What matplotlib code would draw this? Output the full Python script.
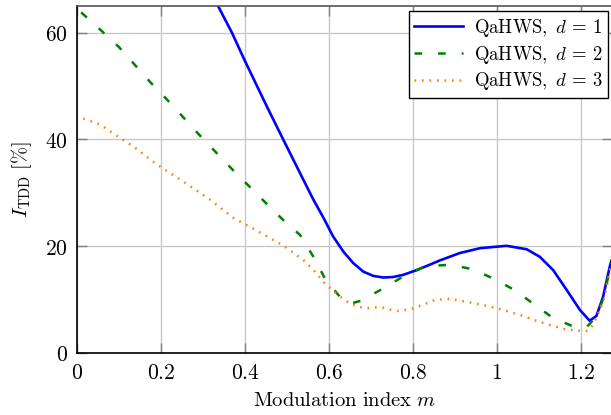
import numpy as np
import matplotlib
matplotlib.use("Agg")
import matplotlib.pyplot as plt

# QaHWS, d = 1
m_d1 = [0.30, 0.336, 0.369, 0.40, 0.452, 0.491, 0.531, 0.563, 0.587, 0.610, 0.634, 0.658, 0.682,
        0.706, 0.730, 0.753, 0.777, 0.809, 0.840, 0.864, 0.912, 0.960, 1.023, 1.071, 1.102,
        1.134, 1.166, 1.198, 1.221, 1.237, 1.253, 1.269, 1.273]
itdd_d1 = [72, 65, 60, 54.7, 46.2, 40.0, 33.7, 28.7, 25.3, 21.8, 19.0, 16.8, 15.2,
           14.4, 14.1, 14.2, 14.6, 15.5, 16.5, 17.3, 18.7, 19.6, 20.05, 19.4, 18.0,
           15.5, 11.8, 8.0, 6.0, 6.9, 10.5, 16.2, 17.3]

# QaHWS, d = 2
m_d2 = [0.01, 0.055, 0.10, 0.176, 0.214, 0.293, 0.372, 0.452, 0.491, 0.531, 0.563, 0.590, 0.626,
        0.652, 0.678, 0.730, 0.777, 0.829, 0.888, 0.940, 0.995, 1.043, 1.090, 1.134, 1.186,
        1.215, 1.237, 1.255, 1.273]
itdd_d2 = [63.8, 60.6, 57.3, 50.6, 47.5, 40.7, 34.2, 27.9, 24.9, 22.1, 18.0, 14.0, 10.5,
           9.2, 9.8, 12.1, 14.3, 16.2, 16.5, 15.7, 13.8, 11.7, 9.0, 6.5, 4.8,
           4.9, 6.8, 10.5, 17.3]

# QaHWS, d = 3
m_d3 = [0.015, 0.055, 0.094, 0.134, 0.19, 0.253, 0.317, 0.372, 0.428, 0.491, 0.539, 0.567, 0.590,
        0.606, 0.622, 0.650, 0.686, 0.721, 0.760, 0.797, 0.834, 0.852, 0.888, 0.924, 0.964,
        1.003, 1.055, 1.090, 1.126, 1.163, 1.199, 1.217, 1.229, 1.245, 1.257, 1.269, 1.273]
itdd_d3 = [43.9, 42.8, 40.7, 38.7, 35.3, 32.1, 28.7, 25.3, 22.9, 20.1, 17.4, 15.2, 13.0,
           11.9, 10.8, 9.2, 8.3, 8.6, 7.8, 8.2, 9.3, 9.9, 10.1, 9.6, 9.0,
           8.3, 7.1, 6.1, 5.2, 4.4, 4.1, 4.1, 5.2, 8.0, 10.5, 15.5, 16.5]

x_ticks = [0, 0.2, 0.4, 0.6, 0.8, 1.0, 1.2]
x_tick_labels = ['0', '0.2', '0.4', '0.6', '0.8', '1', '1.2']
y_ticks = [0, 20, 40, 60]
y_tick_labels = ['0', '20', '40', '60']

plt.rcParams['mathtext.fontset'] = 'cm'
plt.rcParams['font.family'] = ['DejaVu Serif']
plt.rcParams['lines.scale_dashes'] = False

fig = plt.figure(figsize=(6.11, 4.15), dpi=100)
ax = fig.add_axes([0.126, 0.150, 0.875, 0.8355])

ax.plot(m_d1, itdd_d1, color='#0000ff', linewidth=1.9, linestyle='-',
        label=r'$\mathrm{QaHWS,}\ d\,=\,1$')
ax.plot(m_d2, itdd_d2, color='#008000', linewidth=1.8, linestyle=(0, (5.5, 11.5)),
        label=r'$\mathrm{QaHWS,}\ d\,=\,2$')
ax.plot(m_d3, itdd_d3, color='#ff8000', linewidth=1.8, linestyle=(0, (1.2, 4.2)),
        label=r'$\mathrm{QaHWS,}\ d\,=\,3$')

ax.set_xlim(0, 4 / np.pi)
ax.set_ylim(0, 65)
ax.set_xticks(x_ticks, labels=['$' + s + '$' for s in x_tick_labels])
ax.set_yticks(y_ticks, labels=['$' + s + '$' for s in y_tick_labels])
ax.tick_params(direction='in', length=7, width=1, color='#808080',
               top=True, right=True, labelsize=15.5, pad=6.5)
ax.grid(True, color='#c8c8c8', linewidth=1)
ax.set_axisbelow(True)

for s in ['left', 'bottom']:
    ax.spines[s].set_color('black')
    ax.spines[s].set_linewidth(1.2)
ax.spines['top'].set_color('#555555')
ax.spines['top'].set_linewidth(1.2)
ax.spines['right'].set_visible(False)

ax.set_xlabel(r'$\mathrm{Modulation\ index}\ m$', fontsize=14.8, labelpad=5)
ax.set_ylabel(r'$I_{\mathrm{TDD}}\ [\%]$', fontsize=14.8, labelpad=8)

leg = ax.legend(loc='upper right', bbox_to_anchor=(0.994, 0.985), fontsize=13.5,
                fancybox=False, framealpha=1, edgecolor='black', handlelength=2.6,
                borderpad=0.3, labelspacing=0.25, handletextpad=0.6, borderaxespad=0)
leg.get_frame().set_linewidth(1)

fig.savefig('out.png', dpi=100)
